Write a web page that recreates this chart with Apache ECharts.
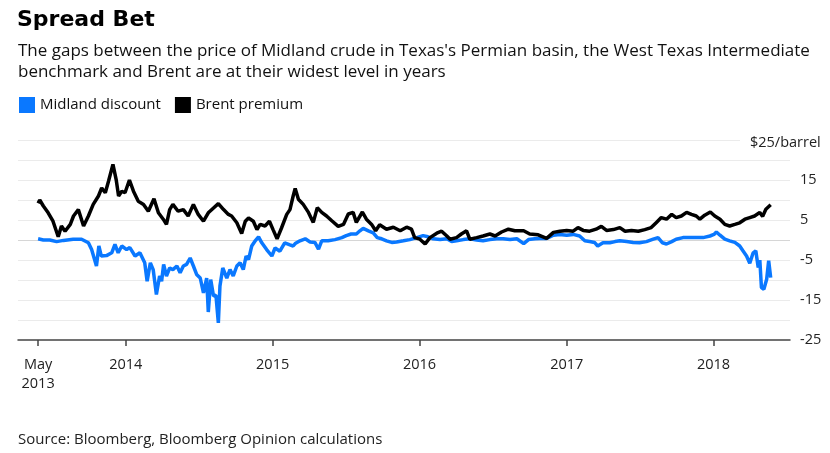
<!DOCTYPE html>
<html>
<head>
<meta charset="utf-8">
<script src="https://cdn.jsdelivr.net/npm/echarts@6/dist/echarts.min.js"></script>
<style>
  html, body { margin: 0; padding: 0; background: #fff; }
  #chart { width: 830px; height: 453px; }
</style>
</head>
<body>
<div id="chart"></div>
<script>
// Midland discount, $/barrel
var midlandDates = [
  '2013-05-28','2013-06-10','2013-06-26','2013-07-13','2013-07-30','2013-08-23','2013-09-13','2013-09-30',
  '2013-10-08','2013-10-20','2013-10-26','2013-11-01','2013-11-14','2013-11-27','2013-12-05','2013-12-13',
  '2013-12-22','2014-01-03','2014-01-11','2014-01-24','2014-02-05','2014-02-17','2014-02-23','2014-03-03',
  '2014-03-10','2014-03-18','2014-03-26','2014-03-31','2014-04-05','2014-04-12','2014-04-20','2014-04-28',
  '2014-05-08','2014-05-16','2014-05-24','2014-06-01','2014-06-10','2014-06-18','2014-06-26','2014-07-05',
  '2014-07-13','2014-07-21','2014-07-25','2014-07-31','2014-08-07','2014-08-13','2014-08-19','2014-08-23',
  '2014-08-30','2014-09-09','2014-09-17','2014-09-25','2014-10-04','2014-10-12','2014-10-20','2014-10-27',
  '2014-11-02','2014-11-10','2014-11-18','2014-11-27','2014-12-05','2014-12-17','2014-12-30','2015-01-07',
  '2015-01-19','2015-01-31','2015-02-13','2015-02-21','2015-02-26','2015-03-10','2015-03-23','2015-04-04',
  '2015-04-16','2015-04-25','2015-05-03','2015-05-19','2015-06-05','2015-06-22','2015-07-03','2015-07-15',
  '2015-07-28','2015-08-06','2015-08-14','2015-08-27','2015-09-08','2015-09-18','2015-09-29','2015-10-11',
  '2015-10-24','2015-11-05','2015-11-22','2015-12-08','2015-12-25','2016-01-10','2016-01-22','2016-02-04',
  '2016-02-21','2016-03-09','2016-03-21','2016-04-02','2016-04-19','2016-05-05','2016-05-22','2016-06-07',
  '2016-06-24','2016-07-11','2016-07-27','2016-08-13','2016-08-30','2016-09-16','2016-09-28','2016-10-14',
  '2016-10-26','2016-11-12','2016-11-29','2016-12-15','2017-01-01','2017-01-17','2017-02-02','2017-02-15',
  '2017-02-27','2017-03-11','2017-03-19','2017-04-01','2017-04-18','2017-05-01','2017-05-13','2017-05-30',
  '2017-06-15','2017-07-01','2017-07-18','2017-08-04','2017-08-16','2017-08-27','2017-09-06','2017-09-19',
  '2017-09-30','2017-10-17','2017-11-03','2017-11-19','2017-12-06','2017-12-23','2018-01-02','2018-01-08',
  '2018-01-17','2018-01-29','2018-02-10','2018-02-23','2018-03-07','2018-03-15','2018-03-24','2018-04-01',
  '2018-04-09','2018-04-16','2018-04-22','2018-04-26','2018-04-30','2018-05-06','2018-05-13','2018-05-18',
  '2018-05-23'
];
var midlandValues = [
  0.3, 0, 0, -0.4, -0.1, 0.2, 0.2, -0.7,
  -2.4, -6.5, -1.5, -4, -3.9, -3.2, -1.1, -3.2,
  -1.5, -2.4, -1.9, -4, -3.2, -5.7, -10.3, -5.7,
  -7.4, -13.6, -9, -10.3, -6.1, -9, -7, -7.4,
  -6.5, -8.2, -6.5, -6.1, -4.5, -6.5, -8.6, -9.5,
  -13.2, -9.5, -18, -9.9, -14, -13.8, -20.7, -11.5,
  -7, -9.5, -7.4, -9, -6.5, -5.7, -7.4, -4,
  -4.9, -1.5, -0.3, 0.8, -0.7, -2.4, -4, -2,
  -2.8, -0.7, -1.2, -1.5, -0.9, -0.2, 0.3, -0.5,
  -0.6, -2.3, -0.2, -0.2, 0.1, 0.6, 1.1, 1.5,
  1.5, 2.3, 2.9, 2.3, 1.8, 0.6, 0.3, -0.2,
  -0.6, -0.5, -0.2, 0.1, 0.6, 1.1, 0.8, 0.3,
  0.1, 0.3, -0.4, -0.2, 0.1, 0.3, 0, -0.2,
  0.1, 0.3, 0.3, 0.1, 0.3, -0.9, 0.1, 0.3,
  0.4, 0.4, 1.2, 1.4, 1.2, 1.4, 1, -0.2,
  -0.4, -0.6, -1.5, -0.7, -0.7, -0.4, -0.2, -0.4,
  -0.6, -0.7, -0.4, 0.2, 0.6, -0.7, -1, -0.4,
  0.2, 0.6, 0.6, 0.6, 0.6, 1, 1.4, 2,
  1.2, 0.2, -0.2, -0.6, -1.5, -2.7, -4, -5.8,
  -3.3, -2.7, -6.9, -5, -11.9, -12.3, -9.8, -5.2,
  -9.4
];

// Brent premium, $/barrel
var brentDates = [
  '2013-05-28','2013-06-01','2013-06-10','2013-06-22','2013-07-04','2013-07-17','2013-07-25','2013-08-03',
  '2013-08-16','2013-08-24','2013-09-05','2013-09-18','2013-09-30','2013-10-12','2013-10-25','2013-11-02',
  '2013-11-11','2013-11-19','2013-11-30','2013-12-08','2013-12-14','2013-12-22','2013-12-30','2014-01-10',
  '2014-01-20','2014-02-01','2014-02-14','2014-02-26','2014-03-12','2014-03-23','2014-04-04','2014-04-12',
  '2014-04-20','2014-04-28','2014-05-11','2014-05-24','2014-06-05','2014-06-18','2014-06-30','2014-07-13',
  '2014-07-25','2014-08-07','2014-08-19','2014-09-01','2014-09-13','2014-09-21','2014-10-04','2014-10-16',
  '2014-10-25','2014-11-02','2014-11-14','2014-11-23','2014-12-01','2014-12-13','2014-12-24','2015-01-02',
  '2015-01-12','2015-01-23','2015-02-05','2015-02-13','2015-02-21','2015-02-26','2015-03-06','2015-03-18',
  '2015-03-31','2015-04-12','2015-04-22','2015-05-03','2015-05-15','2015-05-28','2015-06-13','2015-06-26',
  '2015-07-08','2015-07-20','2015-07-28','2015-08-12','2015-08-22','2015-09-04','2015-09-14','2015-09-24',
  '2015-10-11','2015-10-28','2015-11-14','2015-11-30','2015-12-12','2015-12-20','2016-01-02','2016-01-15',
  '2016-01-27','2016-02-13','2016-02-25','2016-03-09','2016-03-17','2016-04-02','2016-04-14','2016-04-27',
  '2016-05-05','2016-05-22','2016-06-07','2016-06-24','2016-07-07','2016-07-23','2016-08-09','2016-08-25',
  '2016-09-16','2016-10-01','2016-10-22','2016-11-12','2016-11-29','2016-12-15','2017-01-01','2017-01-17',
  '2017-01-29','2017-02-11','2017-02-27','2017-03-15','2017-03-28','2017-04-10','2017-04-27','2017-05-13',
  '2017-05-26','2017-06-11','2017-06-28','2017-07-14','2017-07-30','2017-08-12','2017-08-24','2017-09-06',
  '2017-09-19','2017-09-30','2017-10-13','2017-10-26','2017-11-07','2017-11-19','2017-11-28','2017-12-10',
  '2017-12-24','2018-01-04','2018-01-17','2018-01-29','2018-02-10','2018-02-23','2018-03-07','2018-03-20',
  '2018-04-01','2018-04-13','2018-04-26','2018-05-03','2018-05-11','2018-05-23'
];
var brentValues = [
  9.2, 10, 8.5, 6.8, 4.7, 0.8, 3.5, 2.2,
  3.9, 6, 7.6, 3.5, 6, 8.9, 11, 13,
  11.8, 14.7, 18.9, 15.1, 11, 12.2, 11.8, 15,
  12.2, 9.7, 8.9, 7.2, 10.3, 6.8, 5.2, 3.9,
  7.6, 8.9, 7.2, 7.6, 6, 8.9, 6.4, 4.7,
  6.8, 8, 9.1, 7.6, 6.4, 6, 4.3, 1.6,
  4.7, 5.5, 4.7, 2.6, 3.9, 3.5, 4.7, 2.6,
  0.3, 3, 6.4, 7.6, 11, 12.9, 10.2, 8.9,
  6.9, 4.4, 8.1, 6.9, 6, 4.8, 3.4, 3.9,
  6.5, 6.9, 4.4, 7, 5.2, 3.9, 2.3, 3.8,
  2.7, 3.2, 2.3, 3.2, 2.7, 0.6, 0.2, -1,
  0.6, 1.7, 2.2, 1, 0.2, 0.6, 1.5, 2.3,
  0.2, 0.6, 1, 1.5, 1, 2, 2.7, 2.3,
  2.3, 1.5, 1.3, 0.4, 1.9, 2.2, 2.4, 2.2,
  3.1, 2.4, 2.2, 2.7, 3.4, 2.4, 2.6, 3.1,
  2.2, 2.4, 2.2, 2.6, 3.1, 4.4, 5.6, 5.2,
  6.4, 5.6, 6, 6.9, 6.4, 6, 5.2, 6.2,
  7, 6, 5.2, 3.9, 3.5, 3.9, 4.3, 5.2,
  5.6, 6, 6.9, 5.9, 7.7, 8.8
];

var xTickDates = ['2013-05-28', '2014-01-01', '2015-01-01', '2016-01-01', '2017-01-01', '2018-01-01'];
var xRange = ['2013-04-08', '2018-07-10'];
var yTickLabels = [15, 5, -5, -15, -25];
var yUnitLabel = '$25/barrel';

var FONT = '"Open Sans", "Noto Sans", sans-serif';
var chart = echarts.init(document.getElementById('chart'));

function ts(d) { return Date.parse(d + 'T00:00:00Z'); }
function pairs(dates, values) {
  return dates.map(function (d, i) { return [ts(d), values[i]]; });
}

// 0 line a bit darker, -25 is covered by the axis line
var gridColors = [];
for (var v = -25; v <= 25; v += 5) {
  gridColors.push(v === 0 ? '#d6d6d6' : (v === -25 ? 'rgba(0,0,0,0)' : '#ebebeb'));
}
var xTicks = xTickDates.map(ts);

var option = {
  animation: false,
  backgroundColor: '#fff',
  title: [
    {
      text: 'Spread Bet',
      left: 12, top: 4,
      textStyle: { fontFamily: '"DejaVu Sans", sans-serif', fontWeight: 'bold', fontSize: 22, color: '#000' }
    },
    {
      text: 'The gaps between the price of Midland crude in Texas\'s Permian basin, the West Texas Intermediate\nbenchmark and Brent are at their widest level in years',
      left: 13, top: 36,
      textStyle: { fontFamily: FONT, fontWeight: 'normal', fontSize: 17, lineHeight: 21, color: '#111' }
    },
    {
      text: 'Source: Bloomberg, Bloomberg Opinion calculations',
      left: 13, top: 427,
      textStyle: { fontFamily: FONT, fontWeight: 'normal', fontSize: 15, color: '#222' }
    }
  ],
  legend: {
    left: 14, top: 92,
    icon: 'rect',
    itemWidth: 16, itemHeight: 16, itemGap: 14,
    textStyle: { fontFamily: FONT, fontSize: 15, color: '#111' },
    data: ['Midland discount', 'Brent premium']
  },
  grid: { left: 18, right: 40, top: 140, bottom: 113, containLabel: false, outerBoundsMode: 'none' },
  xAxis: {
    type: 'value',
    min: ts(xRange[0]),
    max: ts(xRange[1]),
    axisLine: { show: true, onZero: false, lineStyle: { color: '#444', width: 1.5 } },
    axisTick: { show: true, length: 6, lineStyle: { color: '#444', width: 1.5 }, customValues: xTicks },
    axisLabel: {
      customValues: xTicks,
      fontFamily: FONT, fontSize: 14.5, color: '#222', margin: 15, lineHeight: 19,
      formatter: function (val) {
        var y = new Date(val).getUTCFullYear();
        return y === 2013 ? 'May\n2013' : String(y);
      }
    },
    splitLine: { show: false }
  },
  yAxis: {
    type: 'value',
    position: 'right',
    min: -25, max: 25, interval: 5,
    axisLine: { show: false },
    axisTick: { show: false },
    axisLabel: {
      fontFamily: FONT, fontSize: 14.5, color: '#222', margin: 10,
      formatter: function (val) {
        return yTickLabels.indexOf(val) >= 0 ? String(val) : '';
      }
    },
    splitLine: { show: true, lineStyle: { color: gridColors, width: 1 } }
  },
  graphic: [
    {
      type: 'rect', z: 100,
      shape: { x: 740, y: 130, width: 90, height: 24 },
      style: { fill: '#fff' }
    },
    {
      type: 'text', z: 101,
      left: 750, top: 135,
      style: { text: yUnitLabel, font: '14.5px ' + FONT, fill: '#222' }
    }
  ],
  series: [
    {
      name: 'Midland discount',
      type: 'line',
      data: pairs(midlandDates, midlandValues),
      showSymbol: false,
      color: '#0a78ff',
      lineStyle: { width: 3.5, color: '#0a78ff' },
      z: 2
    },
    {
      name: 'Brent premium',
      type: 'line',
      data: pairs(brentDates, brentValues),
      showSymbol: false,
      color: '#000',
      lineStyle: { width: 3.5, color: '#000' },
      z: 3
    }
  ]
};
chart.setOption(option);
</script>
</body>
</html>
